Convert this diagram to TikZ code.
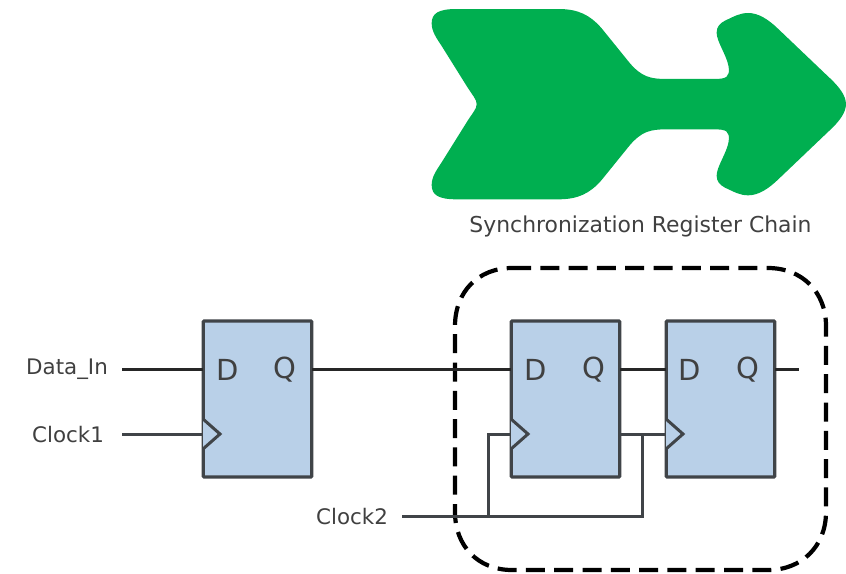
\documentclass[tikz,border=0pt]{standalone}
\usepackage{fontspec}
\setmainfont{DejaVu Sans}
\definecolor{arrowgreen}{HTML}{00AF50}
\definecolor{ffblue}{HTML}{B9D0E8}
\definecolor{ffedge}{HTML}{404448}
\definecolor{labelgrey}{HTML}{404040}
\begin{document}
\begin{tikzpicture}[x=1pt,y=-1pt,
  ffbox/.style={draw=ffedge,fill=ffblue,line width=3.4pt,rounded corners=1pt,outer sep=0pt,inner sep=0pt,minimum width=108.5pt,minimum height=156pt},
  wire/.style={draw=black!85,line width=3pt},
  clockwire/.style={draw=ffedge,line width=3pt},
  clkmark/.style={draw=ffedge,line width=3pt,fill=ffblue,line join=miter},
  pin/.style={text=labelgrey,font=\fontsize{29}{29}\selectfont,inner sep=0pt},
  sig/.style={text=labelgrey,font=\fontsize{21.4}{24}\selectfont,inner sep=0pt},
  chain/.style={draw=black,line width=4.2pt,dash pattern=on 19pt off 9.3pt}
]
\useasboundingbox (0,0) rectangle (846,573);
% green arrow, in the coordinates of a 3x crop
\begin{scope}[shift={(430,0)},x=0.3333pt,y=-0.3333pt]
\fill[arrowgreen]
  (80,27) -- (385,27)
  .. controls (445,27) and (480,45) .. (515,85)
  -- (600,190)
  .. controls (635,230) and (660,237) .. (710,237)
  -- (850,237)
  .. controls (890,237) and (900,232) .. (896,200)
  .. controls (890,165) and (860,125) .. (860,98)
  .. controls (860,80) and (870,70) .. (885,62)
  .. controls (915,48) and (930,39) .. (955,39)
  .. controls (985,39) and (1015,58) .. (1045,87)
  -- (1195,230)
  .. controls (1230,262) and (1248,288) .. (1248,312.5)
  .. controls (1248,337) and (1230,363) .. (1195,395)
  -- (1045,538)
  .. controls (1015,567) and (985,586) .. (955,586)
  .. controls (930,586) and (915,577) .. (885,563)
  .. controls (870,555) and (860,545) .. (860,527)
  .. controls (860,500) and (890,460) .. (896,425)
  .. controls (900,393) and (890,388) .. (850,388)
  -- (710,388)
  .. controls (660,388) and (635,395) .. (600,435)
  -- (515,540)
  .. controls (480,580) and (445,598) .. (385,598)
  -- (80,598)
  .. controls (25,598) and (5,585) .. (5,555)
  .. controls (5,530) and (20,510) .. (35,487)
  -- (105,375)
  .. controls (128,337) and (140,328) .. (140,312.5)
  .. controls (140,297) and (128,288) .. (105,250)
  -- (35,138)
  .. controls (20,115) and (5,95) .. (5,70)
  .. controls (5,40) and (25,27) .. (80,27)
  -- cycle;
\end{scope}
\node[text=labelgrey,font=\fontsize{21.9}{24}\selectfont,inner sep=0pt] (title) at (640.5,226) {Synchronization Register Chain};
% dashed region
\draw[chain] (512,268) -- (768,268)
  .. controls (802,268) and (826,292) .. (826,326)
  -- (826,512)
  .. controls (826,546) and (802,570) .. (768,570)
  -- (512,570)
  .. controls (478,570) and (455,546) .. (455,512)
  -- (455,326)
  .. controls (455,292) and (478,268) .. (512,268);
% flip-flops
\node[ffbox] (ffa) at (257.5,399) {};
\node[ffbox] (ffb) at (565.5,399) {};
\node[ffbox] (ffc) at (720.5,399) {};
% pin letters
\node[pin] (da) at (228,370) {D};
\node[pin] (qa) at (285,370) {Q};
\node[pin] (db) at (536,370) {D};
\node[pin] (qb) at (594,370) {Q};
\node[pin] (dc) at (690,370) {D};
\node[pin] (qc) at (748,370) {Q};
% signal labels
\node[sig] (datain) at (67,369.5) {Data\_In};
\node[sig] (clocka) at (68,435) {Clock1};
\node[sig] (clockb) at (352,517) {Clock2};
% named connection points
\coordinate (dinstart) at (122,369);
\coordinate (clkstart) at (122,434);
\coordinate (busstart) at (402,516);
\coordinate (busa) at (488,516);
\coordinate (busb) at (642,516);
\coordinate (qend) at (799,369);
\coordinate (ina) at (203,369);
\coordinate (cka) at (203,434);
\coordinate (outa) at (312,369);
\coordinate (inb) at (511,369);
\coordinate (ckb) at (511,434);
\coordinate (outb) at (620,369);
\coordinate (inc) at (666,369);
\coordinate (ckc) at (666,434);
\coordinate (outc) at (775,369);
\coordinate (ckbrow) at (488,434);
\coordinate (ckcrow) at (642,434);
\coordinate (lowb) at (620,434);
% connectors
\draw[wire] (dinstart) -- (ina);
\draw[clockwire] (clkstart) -- (cka);
\draw[wire] (outa) -- (inb);
\draw[wire] (outb) -- (inc);
\draw[wire] (outc) -- (qend);
\draw[clockwire] (busstart) -- (busb) -- (ckcrow);
\draw[clockwire] (busa) -- (ckbrow) -- (ckb);
\draw[clockwire] (lowb) -- (ckc);
% clock marks
\draw[clkmark] (203,419) -- (220,434) -- (203,449);
\draw[clkmark] (511,419) -- (528,434) -- (511,449);
\draw[clkmark] (666,419) -- (683,434) -- (666,449);
\end{tikzpicture}
\end{document}
